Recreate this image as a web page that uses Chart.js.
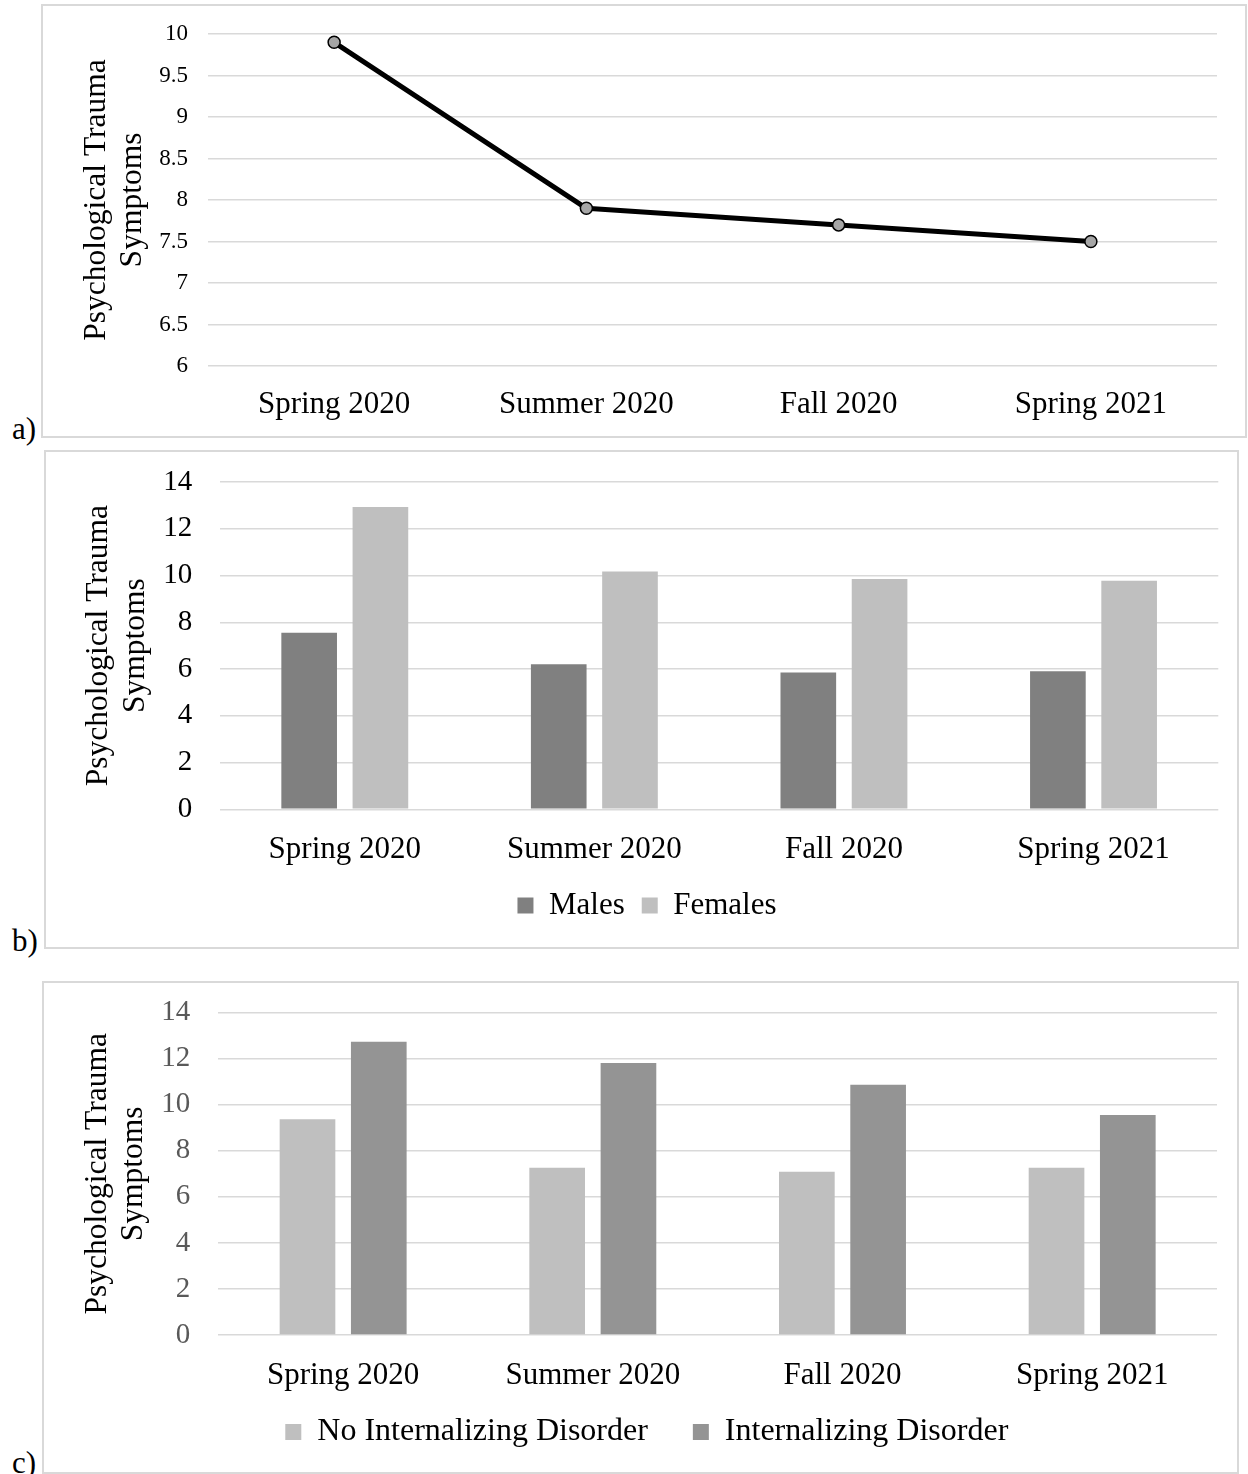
<!DOCTYPE html>
<html>
<head>
<meta charset="utf-8">
<title>Psychological trauma symptoms by season</title>
<script src="https://cdn.jsdelivr.net/npm/chart.js@4.4.1/dist/chart.umd.min.js"></script>
<style>
  html, body { margin: 0; padding: 0; background: #fff; }
  body {
    width: 1248px; height: 1474px; position: relative; overflow: hidden;
    font-family: "Liberation Serif", "Times New Roman", Times, serif;
  }
  .panel { position: absolute; box-sizing: border-box; border: 2px solid #d9d9d9; background: #fff; }
  .panel canvas { position: absolute; left: 0; top: 0; }
  .tag { position: absolute; left: 12px; font-size: 31px; line-height: 31px; color: #000; }
</style>
</head>
<body>
  <div class="panel" style="left:41px;top:4px;width:1206px;height:434px">
    <canvas id="chartA" width="1202" height="430"></canvas>
  </div>
  <div class="tag" style="top:413px">a)</div>

  <div class="panel" style="left:44px;top:450px;width:1195px;height:499px">
    <canvas id="chartB" width="1191" height="495"></canvas>
  </div>
  <div class="tag" style="top:925px">b)</div>

  <div class="panel" style="left:42px;top:981px;width:1197px;height:493px">
    <canvas id="chartC" width="1193" height="489"></canvas>
  </div>
  <div class="tag" style="top:1447px">c)</div>

<script>
/* -----------------------------
 * Data
 * ----------------------------- */
const seasons = ["Spring 2020", "Summer 2020", "Fall 2020", "Spring 2021"];

// a) whole sample
const overallSymptoms = [9.9, 7.9, 7.7, 7.5];

// b) by sex
const maleSymptoms = [7.55, 6.2, 5.85, 5.9];
const femaleSymptoms = [12.93, 10.17, 9.85, 9.78];

// c) by internalizing disorder
const noDisorderSymptoms = [9.37, 7.27, 7.09, 7.27];
const disorderSymptoms = [12.74, 11.82, 10.87, 9.56];

const lineTicks = [6, 6.5, 7, 7.5, 8, 8.5, 9, 9.5, 10];
const barTicks = [0, 2, 4, 6, 8, 10, 12, 14];
const yTitle = ["Psychological Trauma", "Symptoms"];

/* -----------------------------
 * Shared chart setup
 * ----------------------------- */
const SERIF = '"Liberation Serif", "Times New Roman", Times, serif';
const GRID = "#d9d9d9";

function symptomChart(id, type, datasets, g) {
  return new Chart(document.getElementById(id), {
    type,
    data: { labels: seasons, datasets },
    options: {
      responsive: false,
      animation: false,
      layout: { padding: g.pad },
      datasets: { bar: { categoryPercentage: 0.571, barPercentage: 0.781 } },
      plugins: {
        tooltip: { enabled: false },
        legend: g.legend
          ? {
              display: true,
              position: "bottom",
              labels: {
                color: "#000",
                font: { family: SERIF, size: g.legend.font },
                boxWidth: 16,
                boxHeight: 16,
                padding: g.legend.gap,
              },
            }
          : { display: false },
      },
      scales: {
        x: {
          offset: true,
          grid: { display: false, drawTicks: false },
          border: { display: false },
          ticks: {
            color: "#000",
            padding: g.xPad,
            // mirrored labels are not clipped to the axis box (c needs this, its legend is tall)
            mirror: !!g.xMirror,
            maxRotation: 0,
            autoSkip: false,
            font: { family: SERIF, size: 31 },
          },
          afterFit: (s) => { s.height = g.xHeight; },
        },
        y: {
          min: g.ticks[0],
          max: g.ticks[g.ticks.length - 1],
          afterBuildTicks: (s) => { s.ticks = g.ticks.map((v) => ({ value: v })); },
          grid: {
            color: GRID,
            lineWidth: 1.5,
            drawTicks: true,
            tickLength: g.yGap,
            tickColor: "rgba(0,0,0,0)",
          },
          border: { display: false },
          ticks: {
            color: g.tickColor,
            padding: 0,
            font: { family: SERIF, size: g.tickFont },
            callback: (v) => String(v),
          },
          title: {
            display: true,
            text: yTitle,
            color: "#000",
            font: { family: SERIF, size: 31.5, lineHeight: 1.15 },
            padding: { top: g.titlePad, bottom: 0 },
          },
          afterFit: (s) => { s.width = g.yWidth; },
        },
        // empty right axis, only keeps the gap right of the plot
        gap: {
          position: "right",
          grid: { display: false },
          border: { display: false },
          ticks: { display: false },
          afterFit: (s) => { s.width = g.rightGap; },
        },
      },
    },
  });
}

/* -----------------------------
 * a) line chart
 * ----------------------------- */
symptomChart("chartA", "line", [
  {
    label: "All",
    data: overallSymptoms,
    borderColor: "#000",
    borderWidth: 5,
    borderJoinStyle: "round",
    tension: 0,
    pointRadius: 6,
    pointBackgroundColor: "#a6a6a6",
    pointBorderColor: "#000",
    pointBorderWidth: 1.5,
  },
], {
  pad: { left: 0, right: 0, top: 28, bottom: 0 },
  ticks: lineTicks,
  tickFont: 23,
  tickColor: "#000",
  yGap: 20,
  yWidth: 165,
  titlePad: 35.5,
  xPad: 20,
  xHeight: 70,
  rightGap: 28,
  legend: null,
});

/* -----------------------------
 * b) males vs females
 * ----------------------------- */
symptomChart("chartB", "bar", [
  { label: "Males", data: maleSymptoms, backgroundColor: "#808080", borderWidth: 0 },
  { label: "Females", data: femaleSymptoms, backgroundColor: "#bfbfbf", borderWidth: 0 },
], {
  pad: { left: 11, right: 0, top: 30, bottom: 16 },
  ticks: barTicks,
  tickFont: 29,
  tickColor: "#000",
  yGap: 27.7,
  yWidth: 163,
  titlePad: 24,
  xPad: 21.5,
  xHeight: 63.7,
  rightGap: 18.7,
  legend: { font: 31, gap: 17 },
});

/* -----------------------------
 * c) internalizing disorder
 * ----------------------------- */
symptomChart("chartC", "bar", [
  { label: "No Internalizing Disorder", data: noDisorderSymptoms, backgroundColor: "#bfbfbf", borderWidth: 0 },
  { label: "Internalizing Disorder", data: disorderSymptoms, backgroundColor: "#949494", borderWidth: 0 },
], {
  pad: { left: 12.6, right: 0, top: 29.7, bottom: 14 },
  ticks: barTicks,
  tickFont: 29,
  tickColor: "#595959",
  yGap: 28,
  yWidth: 161.7,
  titlePad: 23,
  // mirrored labels sit at top - padding, so a negative padding puts them below the axis
  xPad: -59,
  xMirror: true,
  xHeight: 36,
  rightGap: 20,
  legend: { font: 32, gap: 45 },
});
</script>
</body>
</html>
